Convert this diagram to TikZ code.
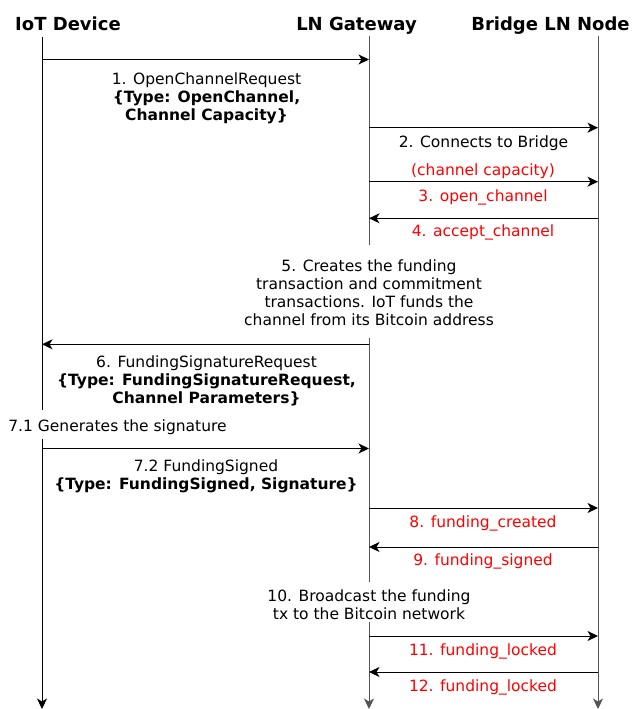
\documentclass[tikz,border=0pt]{standalone}
\usepackage{fontspec}
\setmainfont{DejaVu Sans}
\usetikzlibrary{arrows.meta}
\definecolor{lifegray}{HTML}{555555}
\definecolor{msgred}{HTML}{FF0000}
\tikzset{
  head/.style={font=\fontsize{18}{21}\selectfont\bfseries, inner sep=0pt, text height=13.5pt, text depth=4.3pt},
  lbl/.style={font=\fontsize{15.5}{18}\selectfont, align=center, inner sep=0pt},
  lbl1/.style={lbl, text height=11.6pt, text depth=3.7pt},
  lblred/.style={lbl1, text=msgred},
  tipstyle/.style={-{Stealth[length=10.5pt,width=10pt,inset=3pt]}},
  msg/.style={tipstyle, line width=1pt, draw=black},
  lifeblack/.style={line width=1pt, draw=black},
  lifegrey/.style={line width=1pt, draw=lifegray}
}
\begin{document}
\begin{tikzpicture}[x=1pt,y=-1pt]
\useasboundingbox (0,0) rectangle (633,709);

% headers
\node[head] (hIoT) at (68,26) {IoT Device};
\node[head] (hGW) at (356.5,26) {LN Gateway};
\node[head] (hBr) at (550.5,26) {Bridge LN Node};

% lifeline coordinates
\coordinate (iTop) at (42,37);
\coordinate (iGapA) at (42,410);
\coordinate (iGapB) at (42,439);
\coordinate (iEnd) at (42,709);
\coordinate (gTop) at (369,36);
\coordinate (gGapA) at (369,245);
\coordinate (gGapB) at (369,338);
\coordinate (gGapC) at (369,582);
\coordinate (gGapD) at (369,622);
\coordinate (gEnd) at (369,709);
\coordinate (bTop) at (598,36);
\coordinate (bEnd) at (598,709);

% lifelines
\draw[lifeblack] (iTop) -- (iGapA);
\draw[lifeblack, tipstyle] (iGapB) -- (iEnd);
\draw[lifegrey] (gTop) -- (gGapA);
\draw[lifegrey] (gGapB) -- (gGapC);
\draw[lifegrey, tipstyle] (gGapD) -- (gEnd);
\draw[lifegrey, tipstyle] (bTop) -- (bEnd);

% message coordinates
\coordinate (i1) at (42,59.5);   \coordinate (g1) at (369,59.5);
\coordinate (g2) at (369,127.7); \coordinate (b2) at (598,127.7);
\coordinate (g3) at (369,181.7); \coordinate (b3) at (598,181.7);
\coordinate (b4) at (598,218.3); \coordinate (g4) at (369,218.3);
\coordinate (g6) at (369,344.3); \coordinate (i6) at (42,344.3);
\coordinate (i7) at (42,448.5);  \coordinate (g7) at (369,448.5);
\coordinate (g8) at (369,508);   \coordinate (b8) at (598,508);
\coordinate (b9) at (598,547);   \coordinate (g9) at (369,547);
\coordinate (g11) at (369,636);  \coordinate (b11) at (598,636);
\coordinate (b12) at (598,672);  \coordinate (g12) at (369,672);

% messages
\draw[msg] (i1) -- (g1);
\draw[msg] (g2) -- (b2);
\draw[msg] (g3) -- (b3);
\draw[msg] (b4) -- (g4);
\draw[msg] (g6) -- (i6);
\draw[msg] (i7) -- (g7);
\draw[msg] (g8) -- (b8);
\draw[msg] (b9) -- (g9);
\draw[msg] (g11) -- (b11);
\draw[msg] (b12) -- (g12);

% labels
\node[lbl] (t1) at (206.5,98.6) {1. OpenChannelRequest\\\textbf{\{Type: OpenChannel,}\\\textbf{Channel Capacity\}}};
\node[lbl1] (t2) at (483.5,143.4) {2. Connects to Bridge};
\node[lblred] (tcap) at (483,171.7) {(channel capacity)};
\node[lblred] (t3) at (483,197.5) {3. open\_channel};
\node[lblred] (t4) at (483,232.7) {4. accept\_channel};
\node[lbl] (t5) at (369,293.1) {5. Creates the funding\\transaction and commitment\\transactions. IoT funds the\\channel from its Bitcoin address};
\node[lbl] (t6) at (206.5,381.1) {6. FundingSignatureRequest\\\textbf{\{Type: FundingSignatureRequest,}\\\textbf{Channel Parameters\}}};
\node[lbl1] (t71) at (117.5,427.7) {7.1 Generates the signature};
\node[lbl] (t72) at (206,476.6) {7.2 FundingSigned\\\textbf{\{Type: FundingSigned, Signature\}}};
\node[lblred] (t8) at (483,523.7) {8. funding\_created};
\node[lblred] (t9) at (483,561.7) {9. funding\_signed};
\node[lbl] (t10) at (369,604.6) {10. Broadcast the funding\\tx to the Bitcoin network};
\node[lblred] (t11) at (483,651.7) {11. funding\_locked};
\node[lblred] (t12) at (483,687.7) {12. funding\_locked};
\end{tikzpicture}
\end{document}
